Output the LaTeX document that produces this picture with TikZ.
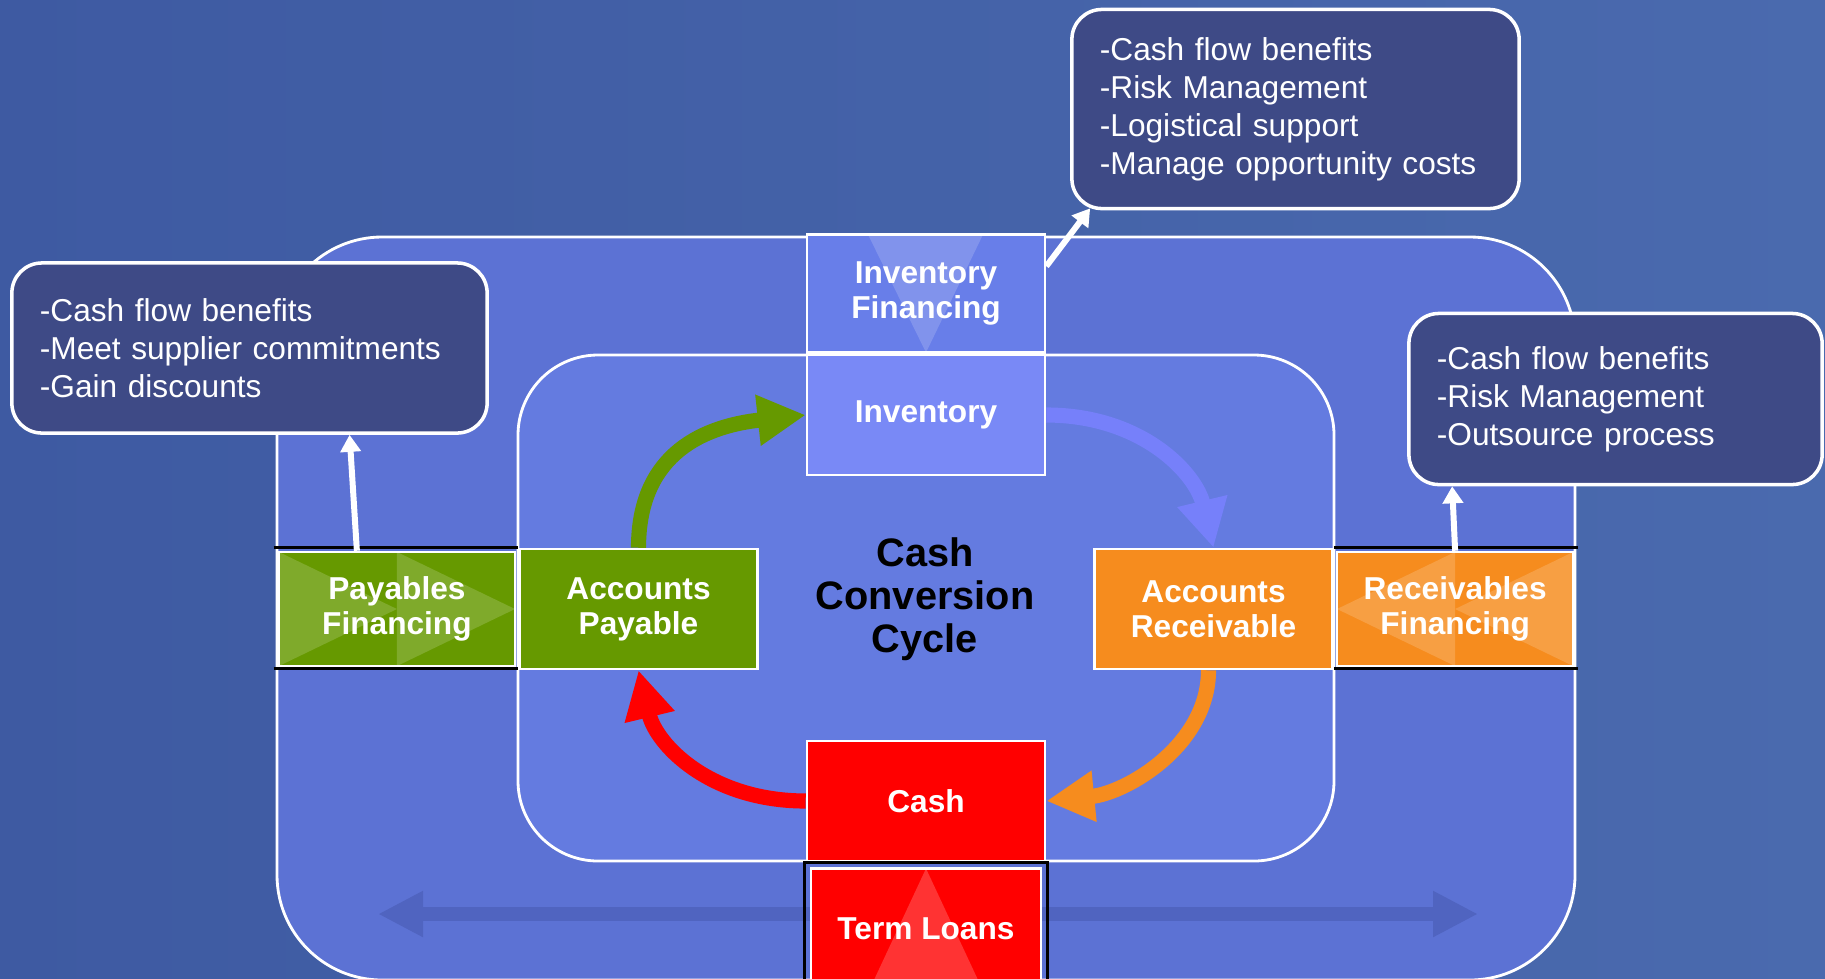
\documentclass[tikz,border=0pt]{standalone}
\usepackage{fontspec}
\setmainfont{Liberation Sans}
\usepackage{xcolor}
\usepackage{tikz}
\usetikzlibrary{shapes,arrows.meta,positioning}

\definecolor{bgblue}{RGB}{74,106,174}
\definecolor{bgdark}{RGB}{62,90,162}
\definecolor{bglight}{RGB}{86,120,190}
\definecolor{ringblue}{RGB}{92,114,212}
\definecolor{coreblue}{RGB}{100,123,224}
\definecolor{trackblue}{RGB}{80,100,192}
\definecolor{invblue}{RGB}{121,137,246}
\definecolor{invfblue}{RGB}{104,126,233}
\definecolor{arrowblue}{RGB}{118,128,250}
\definecolor{notebg}{RGB}{62,74,134}
\definecolor{apgreen}{RGB}{102,153,0}
\definecolor{arorange}{RGB}{246,140,30}
\definecolor{cashred}{RGB}{255,0,0}

\tikzset{
  chevright/.style={path picture={
    \fill[white, opacity=0.17] (path picture bounding box.north west) -- (path picture bounding box.center) -- (path picture bounding box.south west) -- cycle;
    \fill[white, opacity=0.17] (path picture bounding box.north) -- (path picture bounding box.east) -- (path picture bounding box.south) -- cycle;}},
  chevleft/.style={path picture={
    \fill[white, opacity=0.17] (path picture bounding box.north east) -- (path picture bounding box.center) -- (path picture bounding box.south east) -- cycle;
    \fill[white, opacity=0.17] (path picture bounding box.north) -- (path picture bounding box.west) -- (path picture bounding box.south) -- cycle;}},
  wedgedown/.style={path picture={
    \fill[white, opacity=0.17] ([xshift=-0.58cm]path picture bounding box.north) -- ([xshift=0.57cm]path picture bounding box.north) -- (path picture bounding box.south) -- cycle;}},
  wedgeup/.style={path picture={
    \fill[white, opacity=0.2] ([xshift=-0.56cm]path picture bounding box.south) -- ([xshift=0.56cm]path picture bounding box.south) -- (path picture bounding box.north) -- cycle;}}
}

\begin{document}
\begin{tikzpicture}[
    x=0.01cm, y=-0.01cm,
    block/.style={rectangle, draw=white, line width=0.7pt, text=white, font=\bfseries\fontsize{9}{10}\selectfont, align=center, minimum width=2.38cm, minimum height=1.2cm, inner sep=0pt},
    finblock/.style={block, minimum width=2.36cm, minimum height=1.14cm},
    note/.style={rectangle, rounded corners=0.3cm, draw=white, line width=1pt, fill=notebg, text=white, font=\fontsize{9}{10.8}\selectfont, align=left, inner xsep=0.28cm},
    cyclearrow/.style={line width=4.3pt, -{Triangle[length=0.48cm, width=0.48cm]}},
    pointer/.style={white, line width=1.7pt, -{Triangle[length=0.17cm, width=0.2cm]}},
    finline/.style={black, line width=0.8pt},
    ring/.style={draw=white, line width=0.8pt}
  ]
  \useasboundingbox (0,0) rectangle (1825,978);
  \shade[left color=bgdark, middle color=bglight, right color=bgblue] (0,0) rectangle (1825,978);

  % outer and inner frames
  \filldraw[ring, fill=ringblue, rounded corners=1.05cm] (277,237) rectangle (1575,980);
  \filldraw[ring, fill=coreblue, rounded corners=0.8cm] (518,355) rectangle (1334,861);

  % faint track at the bottom
  \coordinate (trackL) at (378,914);
  \coordinate (trackR) at (1478,914);
  \draw[trackblue, line width=4pt, {Triangle[length=0.45cm, width=0.43cm]}-{Triangle[length=0.45cm, width=0.43cm]}] (trackL) -- (trackR);

  % the cycle
  \node[block, fill=invblue] (inv) at (926,415) {Inventory};
  \node[block, fill=invfblue, wedgedown, above=0pt of inv, minimum height=1.18cm] (invf) {Inventory\\Financing};
  \node[block, fill=cashred] (cash) at (926,801) {Cash};
  \node[block, fill=cashred, wedgeup, below=0.05cm of cash, minimum width=2.3cm] (loans) {Term Loans};
  \node[block, fill=apgreen] (ap) at (638.5,609) {Accounts\\Payable};
  \node[block, fill=arorange] (ar) at (1213.5,609) {Accounts\\Receivable};
  \node[finblock, fill=apgreen, chevright, left=0.02cm of ap] (payfin) {Payables\\Financing};
  \node[finblock, fill=arorange, chevleft, right=0.02cm of ar] (recfin) {Receivables\\Financing};

  \node[font=\bfseries\fontsize{11.3}{12.2}\selectfont, align=center] (ccc) at (925,599) {Cash\\Conversion\\Cycle};

  \draw[finline] ([xshift=-0.04cm, yshift=0.03cm]payfin.north west) -- ([xshift=0.02cm, yshift=0.03cm]payfin.north east);
  \draw[finline] ([xshift=-0.04cm, yshift=-0.01cm]payfin.south west) -- ([xshift=0.02cm, yshift=-0.01cm]payfin.south east);
  \draw[finline] ([xshift=-0.02cm, yshift=0.03cm]recfin.north west) -- ([xshift=0.04cm, yshift=0.03cm]recfin.north east);
  \draw[finline] ([xshift=-0.02cm, yshift=-0.01cm]recfin.south west) -- ([xshift=0.04cm, yshift=-0.01cm]recfin.south east);
  \draw[finline] ([shift={(-0.05cm,0.05cm)}]loans.north west) rectangle ([shift={(0.05cm,-0.05cm)}]loans.south east);

  \draw[cyclearrow, apgreen] (ap.north) .. controls +(0,-88) and +(-110,12) .. (inv.west);
  \draw[cyclearrow, arrowblue] (inv.east) .. controls +(95,0) and +(-18,-75) .. (ar.north);
  \draw[cyclearrow, arorange] ([xshift=-0.05cm]ar.south) .. controls +(0,75) and +(80,-8) .. (cash.east);
  \draw[cyclearrow, cashred] (cash.west) .. controls +(-95,0) and +(18,75) .. (ap.south);

  % benefit notes
  \node[note, text width=4.19cm, minimum height=1.70cm] (payNote) at (249.5,348) {-Cash flow benefits\\-Meet supplier commitments\\-Gain discounts};
  \node[note, text width=3.91cm, minimum height=1.99cm] (invNote) at (1295.5,109) {-Cash flow benefits\\-Risk Management\\-Logistical support\\-Manage opportunity costs};
  \node[note, text width=3.57cm, minimum height=1.71cm] (recNote) at (1615.5,399) {-Cash flow benefits\\-Risk Management\\-Outsource process};

  \draw[pointer] ([xshift=-0.4cm]payfin.north) -- ([xshift=1cm]payNote.south);
  \draw[pointer] ([yshift=-0.33cm]invf.north east) -- ([xshift=0.2cm, yshift=0.02cm]invNote.south west);
  \draw[pointer] (recfin.north) -- ([xshift=0.45cm]recNote.south west);
\end{tikzpicture}
\end{document}
